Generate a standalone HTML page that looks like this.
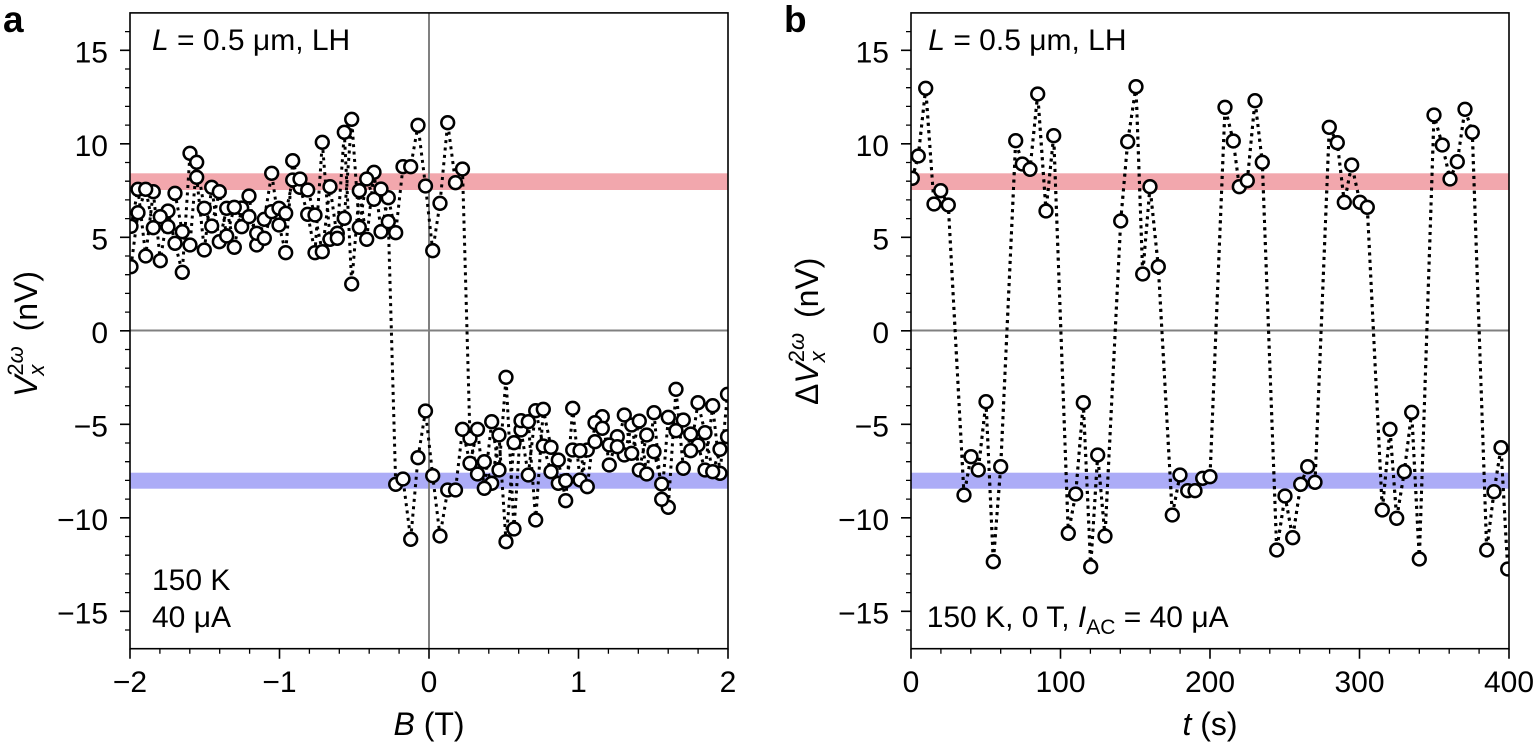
<!DOCTYPE html>
<html><head><meta charset="utf-8"><style>
html,body{margin:0;padding:0;background:#fff;}
svg{display:block;font-family:"Liberation Sans",Arial,sans-serif;}
</style></head><body>
<svg width="1536" height="743" viewBox="0 0 1536 743" xmlns="http://www.w3.org/2000/svg">
<defs>
<clipPath id="ca"><rect x="130" y="12.9" width="598" height="635.8"/></clipPath>
<clipPath id="cb"><rect x="911" y="12.9" width="597.7" height="635.8"/></clipPath>
<marker id="m" markerUnits="userSpaceOnUse" markerWidth="18" markerHeight="18" refX="9" refY="9" overflow="visible"><circle cx="9" cy="9" r="6.4" fill="#fff" stroke="#000" stroke-width="2.5"/></marker>
</defs>
<rect width="1536" height="743" fill="#fff"/>

<!-- Panel a -->
<g clip-path="url(#ca)">
<rect x="130" y="173.3" width="598" height="16.7" fill="#f2a7ad"/>
<rect x="130" y="472.7" width="598" height="16" fill="#acacf7"/>
<line x1="130" y1="330.5" x2="728" y2="330.5" stroke="#808080" stroke-width="2"/>
<line x1="429" y1="12.9" x2="429" y2="648.7" stroke="#808080" stroke-width="2"/>
<g fill="none" stroke="#000" stroke-width="3" stroke-dasharray="3 4.4">
<polyline id="sa1" points="131,226.3 138,189.3 145.7,256 153.3,191.7 160.3,260.7 168,211 175,243.3 182.3,272.3 190,153.3 196.7,177.3 204.3,250 211.7,187.3 219.3,241.7 226.7,208.3 234.3,247.3 241.7,208 249,196 256.7,245 264.3,219.3 271.7,173.3 279,225 285.7,252.7 292.7,160.7 300,187.3 307.7,214.3 315,252.7 322.3,142.3 330,239.3 337.3,233.3 344.3,132.3 351.7,284 359.3,190.7 366.7,239.3 374,172.3 381,231.7 388.3,197.7 395.7,232.7 403,166.7 410.7,166.7 418,125.3 425.5,186 432.7,250.7 440,203.3 447.7,122.7 455.5,182.7 462.5,169 470,438.3 477.5,474 484.3,461.7 491.7,483.3 499,435 506,541.7 514,442.7 521,430 528.3,475 535.7,410.7 543.3,446 551,471.7 558.3,460 565.7,500.7 572.7,408.3 580,480 587.3,450 595,441.7 602.3,416.7 609.3,465 617.3,436.7 624.3,455 631.7,425 639.3,470 646.7,435 654,451.7 661.7,484 668.3,507.3 676,389.3 683.3,468.3 690.7,434 698,445 705,470 712.7,405.7 720,473.3 727.5,394.3"/>
<polyline id="sa2" points="131,266.7 138,212.7 145.7,189.3 153.3,227.7 160.3,216.7 168,226.7 175,193.3 182.3,231.7 190,245 196.7,162.3 204.3,208.3 211.7,226 219.3,191.7 226.7,236 234.3,207.3 241.7,226.7 249,216.7 256.7,233.3 264.3,238.3 271.7,211.7 279,208.3 285.7,213.3 292.7,180 300,179 307.7,190 315,215 322.3,251.7 330,186.7 337.3,238.3 344.3,218.3 351.7,119.3 359.3,227.3 366.7,179 374,199.3 381,189 388.3,221.7 395.7,484.3 403,479 410.7,539.3 418,457.7 425.5,411 432.7,475.7 440,536 447.7,490 455.5,490 462.5,429.3 470,463.3 477.5,429.3 484.3,488.3 491.7,421.7 499,470 506,377.3 514,529 521,420.7 528.3,421.7 535.7,520 543.3,409.3 551,447.3 558.3,483.3 565.7,480.7 572.7,450 580,450.7 587.3,486.7 595,422.7 602.3,428.3 609.3,445 617.3,446.7 624.3,415 631.7,453.3 639.3,421 646.7,474 654,412.7 661.7,499.3 668.3,417.3 676,430.7 683.3,420 690.7,450.7 698,402.7 705,432.7 712.7,471.7 720,449.3 727.5,436.7"/>
</g>
<g fill="none" stroke="none" marker-start="url(#m)" marker-mid="url(#m)" marker-end="url(#m)">
<use href="#sa1" stroke="none" stroke-dasharray="none"/>
<use href="#sa2" stroke="none" stroke-dasharray="none"/>
</g>
</g>

<g id="frame" fill="none" stroke="#000">
<rect x="130" y="12.9" width="598" height="635.8" stroke-width="1.6"/>
<path stroke-width="1.6" d="M130 50.3h-10M130 143.8h-10M130 237.3h-10M130 330.8h-10M130 424.3h-10M130 517.8h-10M130 611.3h-10M130 648.7v10M279.5 648.7v10M429 648.7v10M578.5 648.7v10M728 648.7v10"/>
<path stroke-width="1.3" d="M130 31.6h-5M130 69h-5M130 87.7h-5M130 106.4h-5M130 125.1h-5M130 162.5h-5M130 181.2h-5M130 199.9h-5M130 218.6h-5M130 256h-5M130 274.7h-5M130 293.4h-5M130 312.1h-5M130 349.5h-5M130 368.2h-5M130 386.9h-5M130 405.6h-5M130 443h-5M130 461.7h-5M130 480.4h-5M130 499.1h-5M130 536.5h-5M130 555.2h-5M130 573.9h-5M130 592.6h-5M130 630h-5M159.9 648.7v5M189.8 648.7v5M219.7 648.7v5M249.6 648.7v5M309.4 648.7v5M339.3 648.7v5M369.2 648.7v5M399.1 648.7v5M458.9 648.7v5M488.8 648.7v5M518.7 648.7v5M548.6 648.7v5M608.4 648.7v5M638.3 648.7v5M668.2 648.7v5M698.1 648.7v5"/>
</g>

<g font-size="30" fill="#000">
<g text-anchor="end">
<text x="108" y="62.3">15</text>
<text x="108" y="155.8">10</text>
<text x="108" y="249.3">5</text>
<text x="108" y="342.8">0</text>
<text x="108" y="436.3">−5</text>
<text x="108" y="529.8">−10</text>
<text x="108" y="623.3">−15</text>
</g>
<g text-anchor="middle">
<text x="130" y="692">−2</text>
<text x="279.5" y="692">−1</text>
<text x="429" y="692">0</text>
<text x="578.5" y="692">1</text>
<text x="728" y="692">2</text>
</g>
<text x="152" y="50"><tspan font-style="italic">L</tspan> = 0.5 μm, LH</text>
<text x="152" y="590">150 K</text>
<text x="152" y="627">40 μA</text>
<text x="429" y="735" text-anchor="middle" font-size="32"><tspan font-style="italic">B</tspan> (T)</text>
<text transform="translate(37 397) rotate(-90)" font-size="32"><tspan font-style="italic">V</tspan><tspan font-size="22" font-style="italic" dy="7">x</tspan><tspan font-size="22" dx="-11" dy="-21">2</tspan><tspan font-size="22" font-style="italic">ω</tspan><tspan dx="6" dy="14"> (nV)</tspan></text>
</g>
<text x="3" y="32" font-size="37" font-weight="bold">a</text>

<!-- Panel b -->
<g clip-path="url(#cb)">
<rect x="911" y="173.3" width="598" height="16.7" fill="#f2a7ad"/>
<rect x="911" y="472.7" width="598" height="16" fill="#acacf7"/>
<line x1="911" y1="330.5" x2="1509" y2="330.5" stroke="#808080" stroke-width="2"/>
<polyline id="sb" fill="none" stroke="#000" stroke-width="3" stroke-dasharray="3 4.4" points="912.3,178.3 918.3,156 925.7,88.3 934,204 940.7,190.7 948.3,205 964,495 971,456.7 978.3,470 986,401.7 993.3,561.7 1000.7,466.7 1015.7,140.7 1022.3,164 1030,169.3 1037.7,94 1046,211 1053.7,135.7 1068.3,533.3 1075.7,494 1083.3,402.7 1090.7,566.7 1097.7,455 1105,536 1120.7,221 1127.7,141.7 1136,86.7 1142.7,274 1150,186.7 1158.3,266.7 1172.3,515 1180,475 1187.7,490.7 1195,490.7 1202.7,478.3 1210,476.7 1225,107.3 1233.3,141 1239.3,186.7 1247.3,180.7 1255,100.7 1262.3,162.3 1276.7,550 1285,496 1292.7,537.7 1300.7,484.3 1307.7,466.7 1315,482.3 1329.3,127.3 1337.3,142.7 1344.3,202.3 1351.7,165 1360,202.3 1367.3,207.3 1382.3,510 1390,429.3 1396.7,518.3 1404.3,471.7 1411.7,412.3 1419.3,559 1434,115 1442.3,145 1450,179 1457.3,161.7 1465,109.3 1472.3,132.3 1486.7,550 1494,491.7 1501,447.7 1507.7,569"/>
<g fill="none" stroke="none" marker-start="url(#m)" marker-mid="url(#m)" marker-end="url(#m)">
<use href="#sb" stroke="none" stroke-dasharray="none"/>
</g>
</g>

<use href="#frame" transform="translate(781 0)"/>

<g font-size="30" fill="#000">
<g text-anchor="end">
<text x="889" y="62.3">15</text>
<text x="889" y="155.8">10</text>
<text x="889" y="249.3">5</text>
<text x="889" y="342.8">0</text>
<text x="889" y="436.3">−5</text>
<text x="889" y="529.8">−10</text>
<text x="889" y="623.3">−15</text>
</g>
<g text-anchor="middle">
<text x="911" y="692">0</text>
<text x="1060.5" y="692">100</text>
<text x="1210" y="692">200</text>
<text x="1359.5" y="692">300</text>
<text x="1509" y="692">400</text>
</g>
<text x="928.3" y="50"><tspan font-style="italic">L</tspan> = 0.5 μm, LH</text>
<text x="926.7" y="627">150 K, 0 T, <tspan font-style="italic">I</tspan><tspan font-size="21" dy="7">AC</tspan><tspan dy="-7"> = 40 μA</tspan></text>
<text x="1210" y="735" text-anchor="middle" font-size="32"><tspan font-style="italic">t</tspan> (s)</text>
<text transform="translate(818 405) rotate(-90)" font-size="32">Δ<tspan font-style="italic">V</tspan><tspan font-size="22" font-style="italic" dy="7">x</tspan><tspan font-size="22" dx="-11" dy="-21">2</tspan><tspan font-size="22" font-style="italic">ω</tspan><tspan dx="6" dy="14"> (nV)</tspan></text>
</g>
<text x="784" y="32" font-size="37" font-weight="bold">b</text>
</svg>
</body></html>
